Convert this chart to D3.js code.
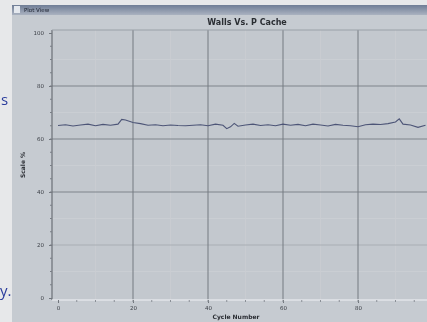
<!DOCTYPE html>
<html><head><meta charset="utf-8">
<script src="https://cdn.jsdelivr.net/npm/d3@7"></script>
<style>
html,body{margin:0;padding:0;background:#e7e8ea;overflow:hidden;}
svg{display:block;}
</style></head>
<body>
<svg id="c" width="427" height="322"></svg>
<script>
// ---- data ----
const xValues = [0,2,4,6,8,10,12,14,16,17,18,20,22,24,26,28,30,32,34,36,38,40,42,44,45,46,47,48,50,52,54,56,58,60,62,64,66,68,70,72,74,76,78,80,82,84,86,88,90,91,92,94,96,98];
const yValues = [65.1,65.4,64.9,65.3,65.6,65.0,65.5,65.2,65.6,67.4,67.2,66.2,65.8,65.2,65.4,65.0,65.3,65.1,65.0,65.2,65.4,65.0,65.6,65.2,63.9,64.6,65.9,64.8,65.3,65.6,65.1,65.4,65.0,65.6,65.2,65.5,65.0,65.6,65.3,64.9,65.5,65.2,65.0,64.6,65.4,65.6,65.5,65.8,66.4,67.6,65.6,65.3,64.4,65.2];
const yTicks = [0,20,40,60,80,100];
const xTicks = [0,20,40,60,80];
const chartTitle = "Walls Vs. P Cache";
const xTitle = "Cycle Number";
const yTitle = "Scale %";
const sideText = ["s","y."];

// ---- drawing ----
const svg = d3.select("#c");
const defs = svg.append("defs");
const g0 = defs.append("linearGradient").attr("id","tb").attr("x1",0).attr("y1",0).attr("x2",0).attr("y2",1);
g0.append("stop").attr("offset","0").attr("stop-color","#6f7d96");
g0.append("stop").attr("offset","1").attr("stop-color","#aab2c0");
defs.append("filter").attr("id","bl").append("feGaussianBlur").attr("stdDeviation",0.45);

const root = svg.append("g").attr("filter","url(#bl)");

// page side text
root.append("text").attr("x",1).attr("y",105).attr("fill","#2a3c9c")
  .attr("font-family","Open Sans, sans-serif").attr("font-size",15).text(sideText[0]);
root.append("text").attr("x",0).attr("y",296).attr("fill","#2a3c9c")
  .attr("font-family","Open Sans, sans-serif").attr("font-size",15).text(sideText[1]);

// window
root.append("rect").attr("x",12).attr("y",5).attr("width",420).attr("height",320).attr("fill","#c6cbd1");
root.append("rect").attr("x",12).attr("y",5).attr("width",420).attr("height",10).attr("fill","url(#tb)");
root.append("rect").attr("x",14).attr("y",6).attr("width",6).attr("height",7).attr("fill","#e4e8ee");
root.append("text").attr("x",24).attr("y",12).attr("fill","#1d2230").attr("font-family","DejaVu Sans, sans-serif")
  .attr("font-size",5.5).text("Plot View");

const L = 52, R = 433, T = 30, B = 300;
const x = d3.scaleLinear().domain([-1.6, 100]).range([L, R]);
const y = d3.scaleLinear().domain([0, 100]).range([298, 33]);

// plot background
root.append("rect").attr("x",L).attr("y",T).attr("width",R-L).attr("height",B-T).attr("fill","#c3c8ce");

// minor grid
const minorY = d3.range(10,100,10).filter(v=>v%20!==0);
root.append("g").selectAll("line").data(minorY).join("line")
  .attr("x1",L).attr("x2",R).attr("y1",d=>y(d)).attr("y2",d=>y(d))
  .attr("stroke","#cbcfd4").attr("stroke-width",0.8);
const minorX = d3.range(10,100,10).filter(v=>v%20!==0);
root.append("g").selectAll("line").data(minorX).join("line")
  .attr("y1",T).attr("y2",B).attr("x1",d=>x(d)).attr("x2",d=>x(d))
  .attr("stroke","#cacdd2").attr("stroke-width",0.8);

// major grid
root.append("g").selectAll("line").data(yTicks.filter(v=>v>0 && v<100)).join("line")
  .attr("x1",L).attr("x2",R).attr("y1",d=>y(d)).attr("y2",d=>y(d))
  .attr("stroke",d=>d===20?"#a9aeb4":"#7f848b").attr("stroke-width",1);
root.append("g").selectAll("line").data(xTicks.filter(v=>v>0)).join("line")
  .attr("y1",T).attr("y2",B).attr("x1",d=>x(d)).attr("x2",d=>x(d))
  .attr("stroke","#757a81").attr("stroke-width",1);

// frame
root.append("line").attr("x1",L).attr("x2",L).attr("y1",T).attr("y2",B).attr("stroke","#6a6f76").attr("stroke-width",1.2);
root.append("line").attr("x1",L).attr("x2",R).attr("y1",T).attr("y2",T).attr("stroke","#9aa0a7").attr("stroke-width",1);
root.append("line").attr("x1",L).attr("x2",R).attr("y1",B).attr("y2",B).attr("stroke","#e2e5e8").attr("stroke-width",1.5);

// axes
const yAxis = d3.axisLeft(y).tickValues(yTicks).tickSize(3).tickPadding(5);
const ya = root.append("g").attr("transform",`translate(${L},0)`).call(yAxis);
const xAxis = d3.axisBottom(x).tickValues(xTicks).tickSize(3).tickPadding(3);
const xa = root.append("g").attr("transform",`translate(0,${B})`).call(xAxis);
[ya,xa].forEach(a=>{
  a.select(".domain").remove();
  a.selectAll("line").attr("stroke","#6f747b");
  a.selectAll("text").attr("fill","#3b3f46").attr("font-family","DejaVu Sans, sans-serif").attr("font-size",5.5);
});
// minor ticks
root.append("g").selectAll("line").data(d3.range(5,100,5)).join("line")
  .attr("x1",L-2).attr("x2",L).attr("y1",d=>y(d)).attr("y2",d=>y(d)).attr("stroke","#7a7f86");
root.append("g").selectAll("line").data(d3.range(5,100,5)).join("line")
  .attr("y1",B).attr("y2",B+2).attr("x1",d=>x(d)).attr("x2",d=>x(d)).attr("stroke","#8a8f96");

// titles
root.append("text").attr("x",247).attr("y",25).attr("text-anchor","middle").attr("fill","#2a2d33")
  .attr("font-family","DejaVu Sans, sans-serif").attr("font-size",8).attr("font-weight","bold").text(chartTitle);
root.append("text").attr("x",236).attr("y",319).attr("text-anchor","middle").attr("fill","#2a2d33")
  .attr("font-family","DejaVu Sans, sans-serif").attr("font-size",6).attr("font-weight","bold").text(xTitle);
root.append("text").attr("transform","translate(25,165) rotate(-90)").attr("text-anchor","middle").attr("fill","#2a2d33")
  .attr("font-family","DejaVu Sans, sans-serif").attr("font-size",6).attr("font-weight","bold").text(yTitle);

// data line
const line = d3.line().x((d,i)=>x(xValues[i])).y(d=>y(d));
root.append("path").datum(yValues).attr("d",line).attr("fill","none")
  .attr("stroke","#4d5577").attr("stroke-width",1.1);
</script>
</body></html>
